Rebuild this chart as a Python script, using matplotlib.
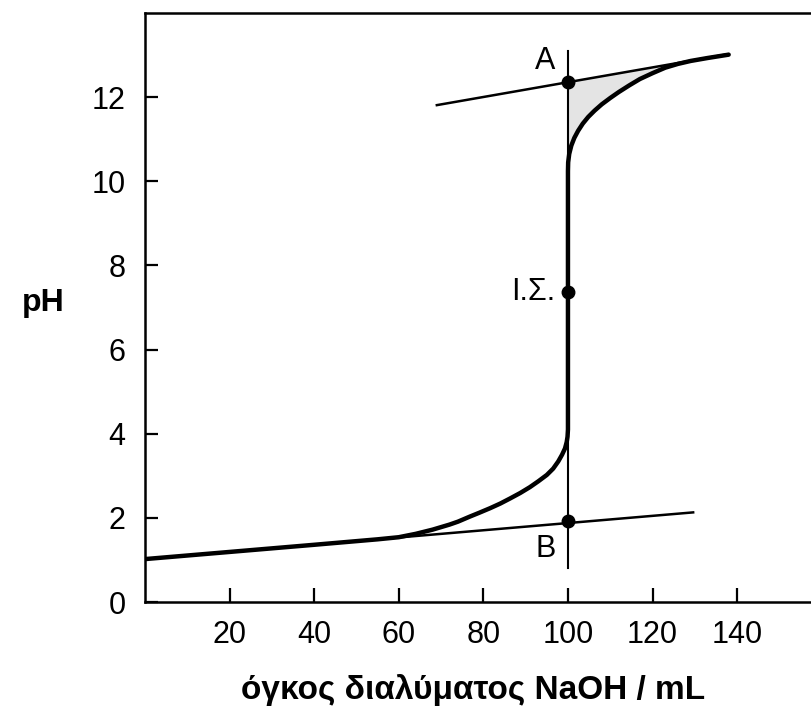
import matplotlib
matplotlib.use("Agg")
import matplotlib.pyplot as plt
from matplotlib.patches import Polygon

plt.rcParams['font.family'] = ['Liberation Sans', 'DejaVu Sans']

# titration curve (mL NaOH, pH)
low_vol = [0, 20, 40, 55, 60, 64, 68, 72, 74, 76.8, 79, 81.6, 84, 86.3, 88.7, 91, 93, 95, 96.5,
           97.7, 98.6, 99.3, 99.7, 99.9, 100]
low_ph = [1.02, 1.19, 1.36, 1.49, 1.54, 1.62, 1.72, 1.84, 1.91, 2.03, 2.12, 2.23, 2.34, 2.46, 2.59,
          2.73, 2.87, 3.02, 3.17, 3.34, 3.50, 3.65, 3.80, 3.93, 4.10]
high_vol = [100, 100, 100.05, 100.3, 100.8, 101.5, 102.4, 103.5, 104.8, 106.3, 108, 110, 112, 114.5,
            117, 120, 123, 126, 129, 133, 138]
high_ph = [4.10, 10.24, 10.45, 10.65, 10.85, 11.03, 11.2, 11.37, 11.53, 11.68, 11.83, 11.98, 12.12,
           12.28, 12.43, 12.57, 12.70, 12.79, 12.86, 12.93, 13.01]
n_touch = 18  # upper branch meets the tangent at 126 mL

# tangent lines (end points)
tan_low_vol = [0, 129.6]
tan_low_ph = [1.02, 2.13]
tan_high_vol = [69.0, 137.8]
tan_high_ph = [11.81, 13.02]

# vertical line at the equivalence volume
eq_vol = 100
eq_line_ph = [0.8, 13.1]

# marked points
pt_names = ['A', 'I.Σ.', 'B']
pt_ph = [12.36, 7.38, 1.92]
lbl_ph = [12.85, 7.38, 1.25]

fig = plt.figure(figsize=(8.12, 7.10), dpi=100)
ax = fig.add_axes([145 / 812, 108 / 710, 1 - 145 / 812, 589 / 710])

# shaded gap between the upper branch and its tangent
shade = list(zip(high_vol[1:n_touch], high_ph[1:n_touch])) + [(eq_vol, pt_ph[0])]
ax.add_patch(Polygon(shade, closed=True, facecolor='#e4e4e4', edgecolor='none', zorder=1))

ax.plot([eq_vol, eq_vol], eq_line_ph, color='black', lw=1.5, zorder=2)
ax.plot(tan_low_vol, tan_low_ph, color='black', lw=1.8, zorder=2)
ax.plot(tan_high_vol, tan_high_ph, color='black', lw=1.8, zorder=2)
ax.plot(low_vol + high_vol, low_ph + high_ph, color='black', lw=3.2,
        solid_capstyle='round', solid_joinstyle='round', zorder=3)
ax.plot([eq_vol] * 3, pt_ph, 'o', color='black', ms=9, zorder=4)

for name, y in zip(pt_names, lbl_ph):
    ax.text(eq_vol - 3.0, y, name, ha='right', va='center', fontsize=22)

ax.set_xlim(0, 157.7)
ax.set_ylim(0, 14)
ax.set_xticks([20, 40, 60, 80, 100, 120, 140])
ax.set_yticks([0, 2, 4, 6, 8, 10, 12])
ax.tick_params(axis='x', direction='in', length=10, width=1.6, pad=13, labelsize=22)
ax.tick_params(axis='y', direction='in', length=9, width=1.6, pad=14, labelsize=22)
ax.spines['right'].set_visible(False)
for side in ['left', 'bottom', 'top']:
    ax.spines[side].set_linewidth(1.8)

fig.text(43 / 812, 1 - 303 / 710, 'pH', ha='center', va='center', fontsize=23, fontweight='bold')
fig.text(473 / 812, 1 - 690 / 710, 'όγκος διαλύματος NaOH / mL', ha='center', va='center',
         fontsize=24, fontweight='bold')

fig.savefig('out.png', dpi=100)
